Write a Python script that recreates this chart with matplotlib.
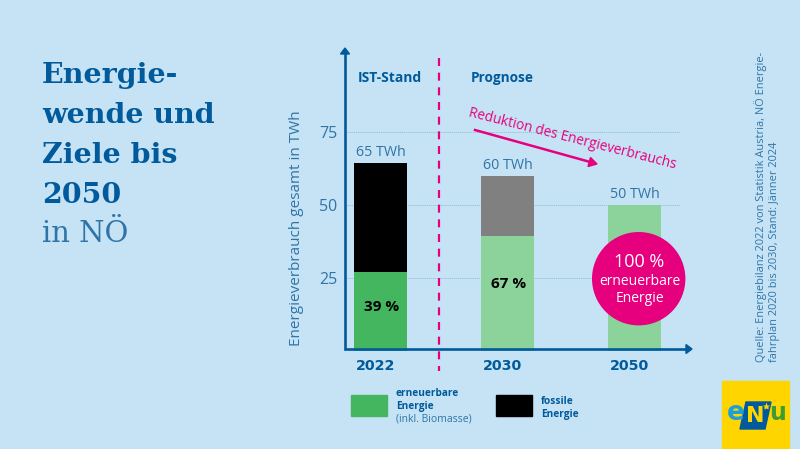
import matplotlib
matplotlib.use("Agg")
import matplotlib.pyplot as plt
from matplotlib.patches import Circle, Polygon, Rectangle

# data
years = ["2022", "2030", "2050"]
renewable = [27, 39.5, 50]
fossil = [37.3, 20.3, 0]
total_labels = ["65 TWh", "60 TWh", "50 TWh"]
y_ticks = [25, 50, 75]
share_labels = ["39 %", "67 %"]
share_y = [15, 23]

BG = "#c5e3f4"
BLUE = "#005a9c"
MID = "#2f74a8"
PINK = "#e6007e"
GRID = "#8fbcd8"
SANS = "Open Sans"

W, H = 800, 449
fig = plt.figure(figsize=(W / 100, H / 100), dpi=100, facecolor=BG)

# bar axes: left edge = y axis, bottom = value 0
left, right, top, base = 345, 692, 48, 350.5
ax = fig.add_axes([left / W, 1 - base / H, (right - left) / W, (base - top) / H])
ax.patch.set_alpha(0)
ax.set_xlim(-0.28, 2.453)
ax.set_ylim(0, (base - top) / 2.91)
for s in ax.spines.values():
    s.set_visible(False)

for v in y_ticks:
    ax.plot([-0.28, 2.36], [v, v], color=GRID, lw=0.6, ls=(0, (1.5, 1)), zorder=1)

x = list(range(len(years)))
ax.bar(x, renewable, width=0.417, color=["#45b660", "#8bd29b", "#8bd29b"], zorder=2)
ax.bar(x, fossil, width=0.417, bottom=renewable, color=["#000000", "#808080", "#808080"], zorder=2)

# year labels sit a little left of the bar centres in the original
ax.set_xticks([i - 0.04 for i in x], years, fontfamily="DejaVu Sans", fontweight="bold", fontsize=10.3, color=BLUE)
ax.set_yticks(y_ticks, [str(v) for v in y_ticks], fontfamily=SANS, fontsize=11.5, color=MID)
ax.tick_params(length=0)
ax.tick_params(axis="x", pad=6)
ax.tick_params(axis="y", pad=5.5)

for i, (r, f, lab) in enumerate(zip(renewable, fossil, total_labels)):
    ax.text(i, r + f + 1.2, lab, ha="center", va="bottom", fontfamily=SANS, fontsize=10.3, color=MID)
for i, (lab, yv) in enumerate(zip(share_labels, share_y)):
    ax.text(i + 0.01, yv, lab, ha="center", va="center", fontfamily=SANS, fontweight="bold", fontsize=11, color="black")

# page overlay in pixel coordinates for the graphic furniture
page = fig.add_axes([0, 0, 1, 1])
page.set_xlim(0, W)
page.set_ylim(H, 0)
page.axis("off")
page.patch.set_alpha(0)

# axes with arrow heads
page.plot([345, 345, 686], [52, 349, 349], color=BLUE, lw=1.9, solid_joinstyle="miter", zorder=5)
page.add_patch(Polygon([[340.5, 54], [349.5, 54], [345, 48]], color=BLUE, zorder=5))
page.add_patch(Polygon([[686, 344.5], [686, 353.5], [692, 349]], color=BLUE, zorder=5))

# divider
page.plot([439, 439], [58, 371], color=PINK, lw=1.6, ls=(0, (3.6, 3)), zorder=5)

page.text(358, 78, "IST-Stand", fontfamily=SANS, fontweight="bold", fontsize=10, color=BLUE, va="center")
page.text(471, 78, "Prognose", fontfamily=SANS, fontweight="bold", fontsize=9.8, color=BLUE, va="center")

page.text(296, 228, "Energieverbrauch gesamt in TWh", rotation=90, ha="center", va="center",
          fontfamily=SANS, fontsize=11, color=MID)

# reduction arrow
page.plot([475, 592], [130, 162.5], color=PINK, lw=1.8, zorder=5)
page.add_patch(Polygon([[590.5, 157.5], [597, 164], [588, 166.5]], color=PINK, zorder=5))
page.text(572.5, 138.5, "Reduktion des Energieverbrauchs", rotation=-14.2, rotation_mode="anchor",
          ha="center", va="center", fontfamily=SANS, fontsize=9.8, color=PINK)

# circle
page.add_patch(Circle((638.7, 278.7), 46, color=PINK, zorder=6))
page.text(639, 262, "100 %", ha="center", va="center", fontfamily=SANS, fontsize=13, color="white", zorder=7)
page.text(640, 281.5, "erneuerbare", ha="center", va="center", fontfamily=SANS, fontsize=10, color="white", zorder=7)
page.text(640, 298.5, "Energie", ha="center", va="center", fontfamily=SANS, fontsize=10, color="white", zorder=7)

# legend
page.add_patch(Rectangle((351, 395), 36, 20.5, color="#45b660"))
page.add_patch(Rectangle((496, 395), 36, 20.5, color="black"))
page.text(396, 393, "erneuerbare", fontfamily=SANS, fontweight="bold", fontsize=7.3, color=BLUE, va="center")
page.text(396, 406, "Energie", fontfamily=SANS, fontweight="bold", fontsize=7.3, color=BLUE, va="center")
page.text(396, 419, "(inkl. Biomasse)", fontfamily=SANS, fontsize=7.5, color=MID, va="center")
page.text(541, 402, "fossile", fontfamily=SANS, fontweight="bold", fontsize=7.3, color=BLUE, va="center")
page.text(541, 415, "Energie", fontfamily=SANS, fontweight="bold", fontsize=7.3, color=BLUE, va="center")

# title
title_lines = ["Energie-", "wende und", "Ziele bis", "2050"]
for i, line in enumerate(title_lines):
    page.text(42, 83 + i * 40, line, fontfamily="DejaVu Serif", fontweight="bold", fontsize=20.5,
              color=BLUE, va="baseline")
page.text(42, 242, "in NÖ", fontfamily="DejaVu Serif", fontsize=21, color=MID, va="baseline")

# source
page.text(761, 362, "Quelle: Energiebilanz 2022 von Statistik Austria, NÖ Energie-", rotation=90,
          ha="center", va="bottom", fontfamily=SANS, fontsize=7.95, color=MID)
page.text(775, 362, "fahrplan 2020 bis 2030, Stand: Jänner 2024", rotation=90,
          ha="center", va="bottom", fontfamily=SANS, fontsize=7.95, color=MID)

# logo
page.add_patch(Rectangle((722, 381), 67, 68, color="#ffd500"))
page.text(735.5, 413, "e", ha="center", va="center", fontfamily="DejaVu Sans", fontweight="bold", fontsize=19, color="#1f9fd8")
page.add_patch(Polygon([[746, 402], [771, 402], [765, 429], [740, 429]], color=BLUE))
page.text(755, 416, "N", ha="center", va="center", fontfamily="DejaVu Sans", fontweight="bold", fontsize=16, color="#ffd500")
page.plot([766], [406], marker="*", ms=6, color="#ffd500", mec="none")
page.text(777.5, 413, "u", ha="center", va="center", fontfamily="DejaVu Sans", fontweight="bold", fontsize=17, color="#3f9c35")

fig.savefig("out.png", dpi=100, facecolor=BG)
